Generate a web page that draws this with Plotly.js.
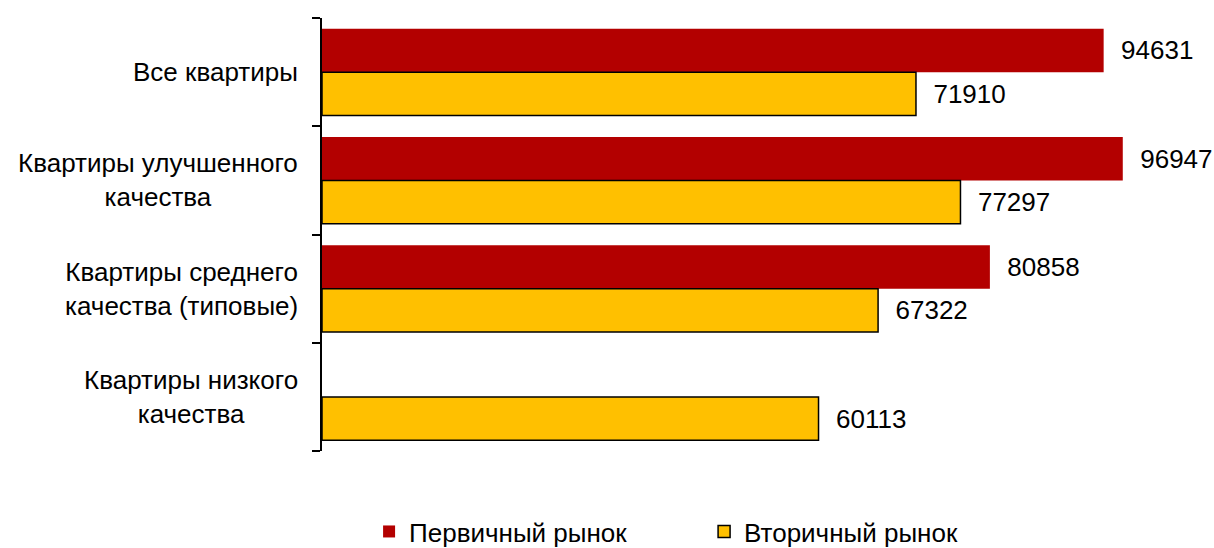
<!DOCTYPE html>
<html>
<head>
<meta charset="utf-8">
<script src="https://cdn.plot.ly/plotly-3.0.1.min.js"></script>
<style>html,body{margin:0;padding:0;background:#fff;}#chart{width:1214px;height:548px;}</style>
</head>
<body>
<div id="chart"></div>
<script>
var categories = ['Все квартиры', 'Квартиры улучшенного качества', 'Квартиры среднего качества (типовые)', 'Квартиры низкого качества'];
var categoryLabels = ['Все квартиры', 'Квартиры улучшенного<br>качества', 'Квартиры среднего<br>качества (типовые)', 'Квартиры низкого<br>качества'];
var seriesNames = ['Первичный рынок', 'Вторичный рынок'];
var primaryValues = [94631, 96947, 80858, null];
var secondaryValues = [71910, 77297, 67322, 60113];
var boundaryTicks = [-0.5, 0.5, 1.5, 2.5, 3.5];

var FONT = 'Liberation Sans, Arial, sans-serif';
var FS = 26;
var textTpl = '\u00A0\u00A0%{x:d}';

var traces = [
  {
    type: 'bar', orientation: 'h', name: seriesNames[0],
    y: categories, x: primaryValues,
    marker: {color: '#B30000', line: {width: 0}},
    texttemplate: textTpl, textposition: 'outside', constraintext: 'none', cliponaxis: false,
    textfont: {family: FONT, size: FS, color: '#000'},
    hoverinfo: 'x'
  },
  {
    type: 'bar', orientation: 'h', name: seriesNames[1],
    y: categories, x: secondaryValues,
    marker: {color: '#FFC000', line: {width: 1.5, color: '#000'}},
    texttemplate: textTpl, textposition: 'outside', constraintext: 'none', cliponaxis: false,
    textfont: {family: FONT, size: FS, color: '#000'},
    hoverinfo: 'x'
  },
  {
    type: 'scatter', mode: 'markers', x: [0, 0], y: [boundaryTicks[0], boundaryTicks[boundaryTicks.length - 1]],
    yaxis: 'y2', marker: {opacity: 0, size: 1}, showlegend: false, hoverinfo: 'skip'
  }
];

var annotations = categories.map(function(c, i){
  return {
    xref: 'paper', yref: 'y', x: 0, y: c, xanchor: 'right', yanchor: 'middle',
    xshift: -22, align: 'center', showarrow: false, text: categoryLabels[i],
    font: {family: FONT, size: FS, color: '#000'}
  };
});

var layout = {
  width: 1214, height: 548,
  margin: {l: 322, r: 66, t: 18, b: 97},
  paper_bgcolor: '#fff', plot_bgcolor: '#fff',
  font: {family: FONT, size: FS, color: '#000'},
  barmode: 'group', bargap: 0.2, bargroupgap: 0,
  xaxis: {range: [0, 100000], visible: false, showgrid: false, zeroline: false, fixedrange: true},
  yaxis: {
    type: 'category', autorange: 'reversed', showgrid: false, zeroline: false,
    showline: false, ticks: '', showticklabels: false
  },
  yaxis2: {
    overlaying: 'y', side: 'left', type: 'linear', range: [3.5, -0.5],
    tickmode: 'array', tickvals: boundaryTicks, showticklabels: false,
    showgrid: false, zeroline: false,
    showline: true, linecolor: '#000', linewidth: 2,
    ticks: 'outside', ticklen: 8, tickwidth: 2, tickcolor: '#000'
  },
  showlegend: true,
  legend: {
    orientation: 'h', xref: 'paper', yref: 'container', x: 0.057, xanchor: 'left', y: 0.03, yanchor: 'middle',
    font: {family: FONT, size: FS, color: '#000'}, traceorder: 'normal',
    entrywidth: 290, entrywidthmode: 'pixels', itemclick: false
  },
  annotations: annotations
};

Plotly.newPlot('chart', traces, layout, {displayModeBar: false, staticPlot: true});
</script>
</body>
</html>
